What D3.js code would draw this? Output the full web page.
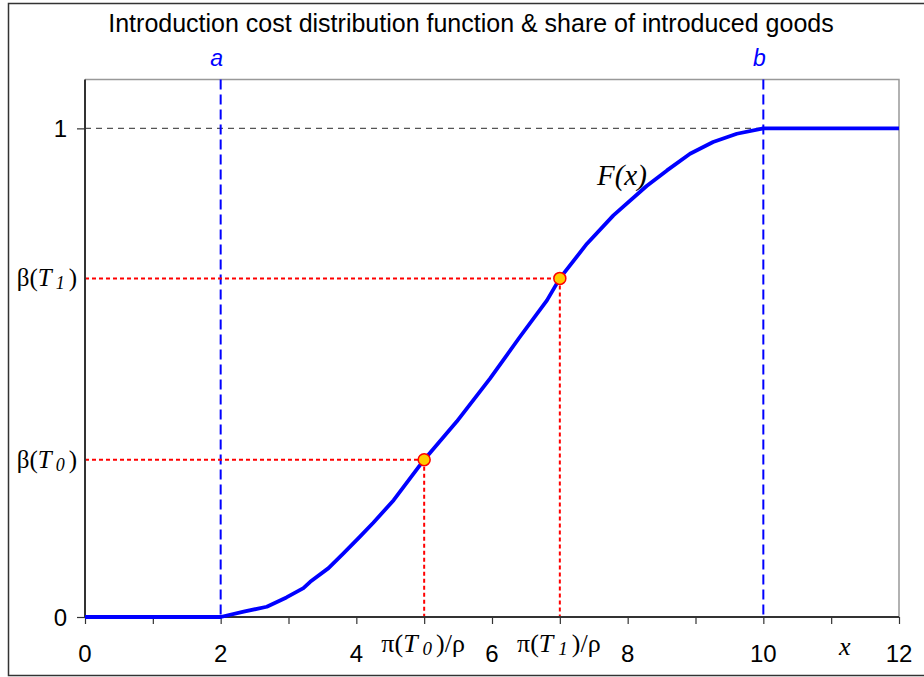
<!DOCTYPE html>
<html><head><meta charset="utf-8">
<script src="https://cdn.jsdelivr.net/npm/d3@7"></script>
<style>
html,body{margin:0;padding:0;background:#fff;}
svg{display:block;}
.sans{font-family:Arial,"Liberation Sans",sans-serif;}
.serif{font-family:"Times New Roman","Liberation Serif",serif;}
</style></head>
<body>
<svg id="chart" width="924" height="677"></svg>
<script>
// ---- data ----
const curveX = [0, 2, 2.34, 2.68, 2.97, 3.22, 3.32, 3.59, 3.81, 4.05, 4.25, 4.55, 5.0, 5.48, 5.97, 6.41, 6.81, 7.0, 7.4, 7.79, 8.28, 8.58, 8.92, 9.26, 9.61, 10, 12];
const curveY = [0, 0, 0.011, 0.021, 0.040, 0.059, 0.072, 0.10, 0.130, 0.164, 0.193, 0.239, 0.322, 0.40, 0.488, 0.573, 0.648, 0.693, 0.764, 0.822, 0.882, 0.914, 0.948, 0.972, 0.989, 1, 1];
const markerX = [5, 7];
const markerY = [0.322, 0.693];
const markerSub = ["0", "1"];
const boundX = [2, 10];
const boundLabels = ["a", "b"];
const xTickVals = [0, 2, 4, 6, 8, 10, 12];
const xMinorVals = [0,1,2,3,4,5,6,7,8,9,10,11,12];
const yTickVals = [0, 1];
const titleText = "Introduction cost distribution function & share of introduced goods";

// ---- layout ----
const svg = d3.select("#chart");
const L = 85, R = 899, T = 79.5, B = 617;
const x = d3.scaleLinear().domain([0, 12]).range([L, R]);
const y = d3.scaleLinear().domain([0, 1.1]).range([B, T]);

// outer frame
svg.append("rect").attr("x", 8.5).attr("y", 3.5).attr("width", 930).attr("height", 672)
  .attr("fill", "#fff").attr("stroke", "#333").attr("stroke-width", 1.5);

// title
svg.append("text").attr("class", "sans").attr("x", 471).attr("y", 32)
  .attr("text-anchor", "middle").attr("font-size", 25).attr("fill", "#000").text(titleText);

// plot frame (top & right light)
svg.append("path").attr("d", `M${L},${T}H${R}V${B}`).attr("fill", "none")
  .attr("stroke", "#999").attr("stroke-width", 1.5);

// reference line at 1
svg.append("line").attr("x1", x(0)).attr("x2", x(boundX[1])).attr("y1", y(1)).attr("y2", y(1))
  .attr("stroke", "#555").attr("stroke-width", 1.2).attr("stroke-dasharray", "6,5");

// blue bound lines
boundX.forEach((b, i) => {
  svg.append("line").attr("x1", x(b)).attr("x2", x(b)).attr("y1", T).attr("y2", B)
    .attr("stroke", "#0000ff").attr("stroke-width", 2).attr("stroke-dasharray", "10,5");
  svg.append("text").attr("class", "sans").attr("x", x(b) - 4).attr("y", 66)
    .attr("text-anchor", "middle").attr("font-size", 23).attr("font-style", "italic")
    .attr("fill", "#0000ff").text(boundLabels[i]);
});

// red dotted guides
markerX.forEach((mx, i) => {
  svg.append("line").attr("x1", x(0)).attr("x2", x(mx)).attr("y1", y(markerY[i])).attr("y2", y(markerY[i]))
    .attr("stroke", "#ff0000").attr("stroke-width", 2).attr("stroke-dasharray", "4,3");
  svg.append("line").attr("x1", x(mx)).attr("x2", x(mx)).attr("y1", y(markerY[i])).attr("y2", B)
    .attr("stroke", "#ff0000").attr("stroke-width", 2).attr("stroke-dasharray", "4,3");
});

// axes
const xAxis = d3.axisBottom(x).tickValues(xMinorVals).tickSize(7).tickFormat("");
const gx = svg.append("g").attr("transform", `translate(0,${B})`).call(xAxis);
gx.select(".domain").attr("stroke", "#333").attr("stroke-width", 2).attr("d", `M${L},0H${R}`);
gx.selectAll(".tick line").attr("stroke", "#333").attr("stroke-width", 1.2);

const yAxis = d3.axisLeft(y).tickValues(yTickVals).tickSize(8).tickFormat("");
const gy = svg.append("g").attr("transform", `translate(${L},0)`).call(yAxis);
gy.select(".domain").attr("stroke", "#333").attr("stroke-width", 2).attr("d", `M0,${T}V${B}`);
gy.selectAll(".tick line").attr("stroke", "#333").attr("stroke-width", 1.2);

// numeric labels
xTickVals.forEach(v => {
  svg.append("text").attr("class", "sans").attr("x", x(v)).attr("y", 662)
    .attr("text-anchor", "middle").attr("font-size", 24).attr("fill", "#000").text(v);
});
yTickVals.forEach(v => {
  svg.append("text").attr("class", "sans").attr("x", 67).attr("y", y(v) + 9)
    .attr("text-anchor", "end").attr("font-size", 24).attr("fill", "#000").text(v);
});

// beta labels on y, pi labels on x
markerX.forEach((mx, i) => {
  const t = svg.append("text").attr("class", "serif").attr("x", 77).attr("y", y(markerY[i]) + 8)
    .attr("text-anchor", "end").attr("font-size", 25).attr("fill", "#000");
  t.append("tspan").text("β(");
  t.append("tspan").attr("font-style", "italic").text("T");
  t.append("tspan").attr("font-style", "italic").attr("font-size", 18).attr("dx", 4).attr("dy", 3).text(markerSub[i]);
  t.append("tspan").attr("dx", 4).attr("dy", -3).text(")");

  const p = svg.append("text").attr("class", "serif").attr("x", x(mx) - 1).attr("y", 652)
    .attr("text-anchor", "middle").attr("font-size", 26).attr("fill", "#000");
  p.append("tspan").text("π(");
  p.append("tspan").attr("font-style", "italic").text("T");
  p.append("tspan").attr("font-style", "italic").attr("font-size", 19).attr("dx", 5).attr("dy", 3).text(markerSub[i]);
  p.append("tspan").attr("dx", 4).attr("dy", -3).text(")/ρ");
});

// x axis name
svg.append("text").attr("class", "serif").attr("x", x(11.2)).attr("y", 655)
  .attr("text-anchor", "middle").attr("font-size", 26).attr("font-style", "italic").attr("fill", "#000").text("x");

// curve
const pts = curveX.map((v, i) => [v, curveY[i]]);
svg.append("path").datum(pts).attr("fill", "none").attr("stroke", "#0000ff")
  .attr("stroke-width", 3.8).attr("stroke-linejoin", "round")
  .attr("d", d3.line().x(d => x(d[0])).y(d => y(d[1])));

// F(x) label
svg.append("text").attr("class", "serif").attr("x", 597).attr("y", 185)
  .attr("font-size", 29).attr("font-style", "italic").attr("fill", "#000").text("F(x)");

// markers
svg.selectAll("circle.m").data(markerX).enter().append("circle").attr("class", "m")
  .attr("cx", d => x(d)).attr("cy", (d, i) => y(markerY[i])).attr("r", 6)
  .attr("fill", "#ffcc00").attr("stroke", "#ff0000").attr("stroke-width", 1.5);
</script>
</body></html>
